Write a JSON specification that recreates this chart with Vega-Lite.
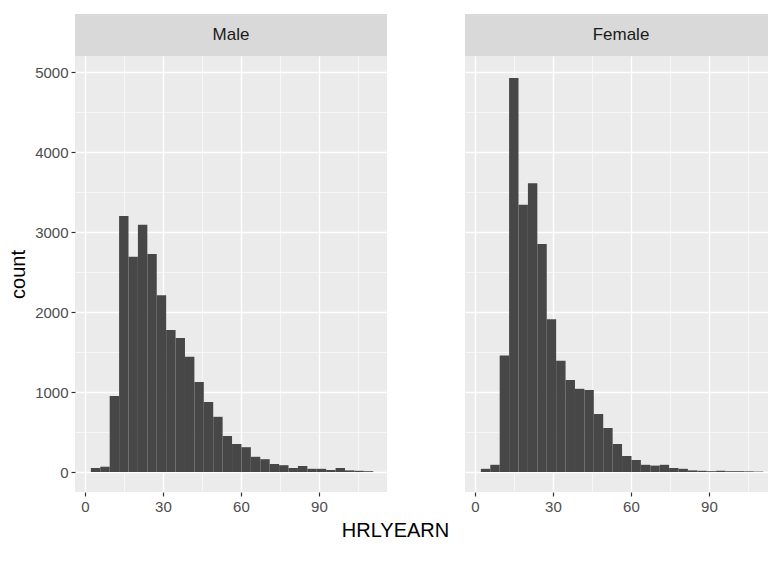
{
  "$schema": "https://vega.github.io/schema/vega-lite/v6.json",
  "background": "white",
  "padding": {"left": 8, "top": 14, "right": 15, "bottom": 5},
  "datasets": {
    "bins": [
      {"sex": "Male", "lo": 2.3, "hi": 5.92, "count": 50},
      {"sex": "Male", "lo": 5.92, "hi": 9.54, "count": 66},
      {"sex": "Male", "lo": 9.54, "hi": 13.16, "count": 950},
      {"sex": "Male", "lo": 13.16, "hi": 16.78, "count": 3200},
      {"sex": "Male", "lo": 16.78, "hi": 20.4, "count": 2690},
      {"sex": "Male", "lo": 20.4, "hi": 24.02, "count": 3090},
      {"sex": "Male", "lo": 24.02, "hi": 27.64, "count": 2725},
      {"sex": "Male", "lo": 27.64, "hi": 31.26, "count": 2210},
      {"sex": "Male", "lo": 31.26, "hi": 34.88, "count": 1775},
      {"sex": "Male", "lo": 34.88, "hi": 38.5, "count": 1675},
      {"sex": "Male", "lo": 38.5, "hi": 42.12, "count": 1440},
      {"sex": "Male", "lo": 42.12, "hi": 45.74, "count": 1125},
      {"sex": "Male", "lo": 45.74, "hi": 49.36, "count": 875},
      {"sex": "Male", "lo": 49.36, "hi": 52.98, "count": 690},
      {"sex": "Male", "lo": 52.98, "hi": 56.6, "count": 450},
      {"sex": "Male", "lo": 56.6, "hi": 60.22, "count": 350},
      {"sex": "Male", "lo": 60.22, "hi": 63.84, "count": 310},
      {"sex": "Male", "lo": 63.84, "hi": 67.46, "count": 190},
      {"sex": "Male", "lo": 67.46, "hi": 71.08, "count": 160},
      {"sex": "Male", "lo": 71.08, "hi": 74.7, "count": 100},
      {"sex": "Male", "lo": 74.7, "hi": 78.32, "count": 85},
      {"sex": "Male", "lo": 78.32, "hi": 81.94, "count": 50},
      {"sex": "Male", "lo": 81.94, "hi": 85.56, "count": 75},
      {"sex": "Male", "lo": 85.56, "hi": 89.18, "count": 40},
      {"sex": "Male", "lo": 89.18, "hi": 92.8, "count": 40},
      {"sex": "Male", "lo": 92.8, "hi": 96.42, "count": 25},
      {"sex": "Male", "lo": 96.42, "hi": 100.04, "count": 50},
      {"sex": "Male", "lo": 100.04, "hi": 103.66, "count": 20},
      {"sex": "Male", "lo": 103.66, "hi": 107.28, "count": 15},
      {"sex": "Male", "lo": 107.28, "hi": 110.9, "count": 10},
      {"sex": "Female", "lo": 2.3, "hi": 5.92, "count": 40},
      {"sex": "Female", "lo": 5.92, "hi": 9.54, "count": 90},
      {"sex": "Female", "lo": 9.54, "hi": 13.16, "count": 1455},
      {"sex": "Female", "lo": 13.16, "hi": 16.78, "count": 4925},
      {"sex": "Female", "lo": 16.78, "hi": 20.4, "count": 3340},
      {"sex": "Female", "lo": 20.4, "hi": 24.02, "count": 3610},
      {"sex": "Female", "lo": 24.02, "hi": 27.64, "count": 2850},
      {"sex": "Female", "lo": 27.64, "hi": 31.26, "count": 1910},
      {"sex": "Female", "lo": 31.26, "hi": 34.88, "count": 1390},
      {"sex": "Female", "lo": 34.88, "hi": 38.5, "count": 1150},
      {"sex": "Female", "lo": 38.5, "hi": 42.12, "count": 1040},
      {"sex": "Female", "lo": 42.12, "hi": 45.74, "count": 1025},
      {"sex": "Female", "lo": 45.74, "hi": 49.36, "count": 725},
      {"sex": "Female", "lo": 49.36, "hi": 52.98, "count": 550},
      {"sex": "Female", "lo": 52.98, "hi": 56.6, "count": 350},
      {"sex": "Female", "lo": 56.6, "hi": 60.22, "count": 200},
      {"sex": "Female", "lo": 60.22, "hi": 63.84, "count": 150},
      {"sex": "Female", "lo": 63.84, "hi": 67.46, "count": 90},
      {"sex": "Female", "lo": 67.46, "hi": 71.08, "count": 80},
      {"sex": "Female", "lo": 71.08, "hi": 74.7, "count": 90},
      {"sex": "Female", "lo": 74.7, "hi": 78.32, "count": 50},
      {"sex": "Female", "lo": 78.32, "hi": 81.94, "count": 40},
      {"sex": "Female", "lo": 81.94, "hi": 85.56, "count": 20},
      {"sex": "Female", "lo": 85.56, "hi": 89.18, "count": 15},
      {"sex": "Female", "lo": 89.18, "hi": 92.8, "count": 10},
      {"sex": "Female", "lo": 92.8, "hi": 96.42, "count": 15},
      {"sex": "Female", "lo": 96.42, "hi": 100.04, "count": 10},
      {"sex": "Female", "lo": 100.04, "hi": 103.66, "count": 10},
      {"sex": "Female", "lo": 103.66, "hi": 107.28, "count": 8},
      {"sex": "Female", "lo": 107.28, "hi": 110.9, "count": 5}
    ]
  },
  "data": {"name": "bins"},
  "spacing": 16,
  "hconcat": [
    {
      "spacing": 0,
      "vconcat": [
        {
          "width": 312, "height": 42,
          "view": {"fill": "#D9D9D9", "stroke": null},
          "transform": [{"filter": "datum.sex === 'Male' && datum.lo < 3"}],
          "mark": {"type": "text", "fontSize": 17, "color": "#1A1A1A", "font": "Liberation Sans"},
          "encoding": {"text": {"field": "sex", "type": "nominal"}}
        },
        {
          "width": 312, "height": 436,
          "view": {"fill": "#EBEBEB", "stroke": null},
          "transform": [{"filter": "datum.sex === 'Male'"}],
          "mark": {"type": "rect", "color": "#474747"},
          "encoding": {
            "x": {"field": "lo", "type": "quantitative",
              "scale": {"domain": [-3.8, 116.2], "nice": false, "zero": false},
              "axis": {"values": [0, 15, 30, 45, 60, 75, 90, 105],
                "labelExpr": "datum.value % 30 === 0 ? datum.label : ''",
                "gridWidth": {"condition": {"test": "datum.value % 30 === 0", "value": 1.4}, "value": 0.6},
                "tickOpacity": {"condition": {"test": "datum.value % 30 === 0", "value": 1}, "value": 0},
                "title": "HRLYEARN", "titleX": 320}},
            "x2": {"field": "hi"},
            "y": {"field": "count", "type": "quantitative",
              "scale": {"domain": [-250, 5200], "nice": false, "zero": false},
              "axis": {"values": [0, 500, 1000, 1500, 2000, 2500, 3000, 3500, 4000, 4500, 5000],
                "labelExpr": "datum.value % 1000 === 0 ? datum.label : ''",
                "format": "d",
                "gridWidth": {"condition": {"test": "datum.value % 1000 === 0", "value": 1.4}, "value": 0.6},
                "tickOpacity": {"condition": {"test": "datum.value % 1000 === 0", "value": 1}, "value": 0},
                "title": "count"}},
            "y2": {"datum": 0}
          }
        }
      ]
    },
    {
      "spacing": 0,
      "vconcat": [
        {
          "width": 312, "height": 42,
          "view": {"fill": "#D9D9D9", "stroke": null},
          "transform": [{"filter": "datum.sex === 'Female' && datum.lo < 3"}],
          "mark": {"type": "text", "fontSize": 17, "color": "#1A1A1A", "font": "Liberation Sans"},
          "encoding": {"text": {"field": "sex", "type": "nominal"}}
        },
        {
          "width": 312, "height": 436,
          "view": {"fill": "#EBEBEB", "stroke": null},
          "transform": [{"filter": "datum.sex === 'Female'"}],
          "mark": {"type": "rect", "color": "#474747"},
          "encoding": {
            "x": {"field": "lo", "type": "quantitative",
              "scale": {"domain": [-3.8, 116.2], "nice": false, "zero": false},
              "axis": {"values": [0, 15, 30, 45, 60, 75, 90, 105],
                "labelExpr": "datum.value % 30 === 0 ? datum.label : ''",
                "gridWidth": {"condition": {"test": "datum.value % 30 === 0", "value": 1.4}, "value": 0.6},
                "tickOpacity": {"condition": {"test": "datum.value % 30 === 0", "value": 1}, "value": 0},
                "title": null}},
            "x2": {"field": "hi"},
            "y": {"field": "count", "type": "quantitative",
              "scale": {"domain": [-250, 5200], "nice": false, "zero": false},
              "axis": {"values": [0, 500, 1000, 1500, 2000, 2500, 3000, 3500, 4000, 4500, 5000],
                "labels": false, "ticks": false, "title": null,
                "gridWidth": {"condition": {"test": "datum.value % 1000 === 0", "value": 1.4}, "value": 0.6}}},
            "y2": {"datum": 0}
          }
        }
      ]
    }
  ],
  "config": {
    "font": "Liberation Sans",
    "view": {"stroke": null},
    "axis": {
      "domain": false, "gridColor": "white", "tickColor": "#333333", "tickSize": 4, "tickWidth": 1.2,
      "labelColor": "#4D4D4D", "labelFontSize": 15, "labelPadding": 3,
      "titleFontSize": 20, "titleFontWeight": "normal", "titleColor": "black", "titlePadding": 6
    }
  }
}
